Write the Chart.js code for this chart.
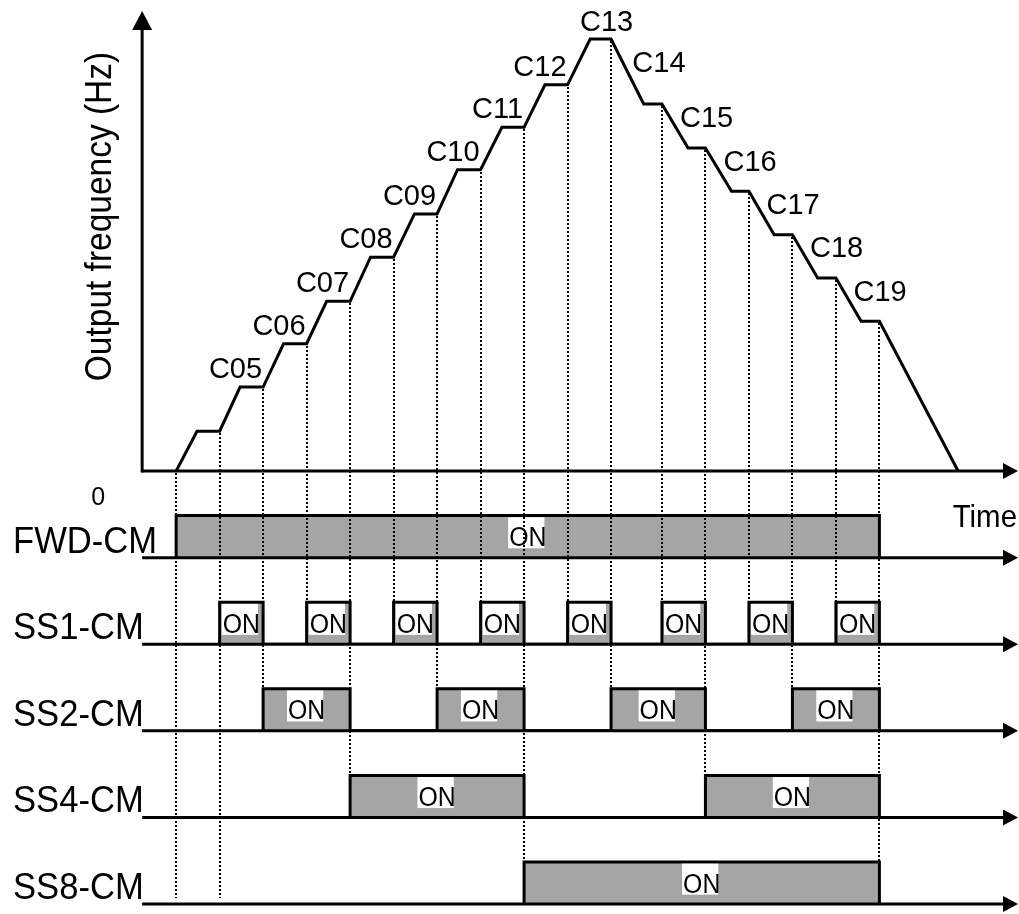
<!DOCTYPE html>
<html>
<head>
<meta charset="utf-8">
<script src="https://cdn.jsdelivr.net/npm/chart.js@4/dist/chart.umd.min.js"></script>
<style>
  html, body { margin: 0; padding: 0; background: #fff; }
  #timing { display: block; }
</style>
</head>
<body>
<canvas id="timing" width="1019" height="914"></canvas>
<script>
"use strict";

// speed levels: plateau start / end (one time unit = one switching step) and output frequency (Hz)
const levelNames = ['', 'C05', 'C06', 'C07', 'C08', 'C09', 'C10', 'C11', 'C12', 'C13', 'C14', 'C15', 'C16', 'C17', 'C18', 'C19'];
const levelStart = [0.48, 1.47, 2.47, 3.46, 4.47, 5.48, 6.47, 7.49, 8.48, 9.52, 10.75, 11.77, 12.77, 13.75, 14.75, 15.75];
const levelEnd   = [1, 2, 3, 4, 5, 6, 7, 8, 9, 10, 11.17, 12.17, 13.17, 14.17, 15.17, 16.17];
const levelHz    = [4.6, 9.7, 14.7, 19.6, 24.7, 29.7, 34.8, 39.7, 44.6, 49.9, 42.4, 37.3, 32.3, 27.3, 22.3, 17.3];
const runStart = 0;
const stopTime = 17.98;

// terminal inputs, [on, off] intervals
const signalNames = ['FWD-CM', 'SS1-CM', 'SS2-CM', 'SS4-CM', 'SS8-CM'];
const fwdOn = [[0, 16.17]];
const ss1On = [[1, 2], [3, 4], [5, 6], [7, 8], [9, 10], [11.17, 12.17], [13.17, 14.17], [15.17, 16.17]];
const ss2On = [[2, 4], [6, 8], [10, 12.17], [14.17, 16.17]];
const ss4On = [[4, 8], [12.17, 16.17]];
const ss8On = [[8, 16.17]];
const signalOn = [fwdOn, ss1On, ss2On, ss4On, ss8On];

const FONT = '"Liberation Sans", Arial, sans-serif';
const GREY = '#a5a5a5';

var freqData = [{x: runStart, y: 0}];
levelHz.forEach(function (hz, i) {
    freqData.push({x: levelStart[i], y: hz}, {x: levelEnd[i], y: hz});
});
freqData.push({x: stopTime, y: 0});

function wave(intervals) {
    var pts = [];
    intervals.forEach(function (iv) {
        pts.push({x: iv[0], y: 0}, {x: iv[0], y: 1}, {x: iv[1], y: 1}, {x: iv[1], y: 0});
    });
    return pts;
}

var rowAxes = signalNames.map(function (n, i) { return 'row' + i; });

var scales = {
    x: {type: 'linear', min: -4.05, max: 19.38, display: false},
    yFreq: {type: 'linear', position: 'right', stack: 'rows', stackWeight: 5.44, min: 0, max: 54.4, display: false}
};
rowAxes.forEach(function (id) {
    scales[id] = {type: 'linear', position: 'right', stack: 'rows', stackWeight: 1, min: 0, max: 2.06, display: false};
});

var datasets = [{
    label: 'Output frequency',
    data: freqData,
    yAxisID: 'yFreq',
    borderColor: '#000',
    borderWidth: 3,
    pointRadius: 0,
    fill: false
}];
signalOn.forEach(function (on, i) {
    datasets.push({
        label: signalNames[i],
        data: wave(on),
        yAxisID: rowAxes[i],
        borderColor: '#000',
        backgroundColor: GREY,
        borderWidth: 3,
        pointRadius: 0,
        fill: 'origin'
    });
});

function text(ctx, str, x, y, size, align, squeeze) {
    ctx.save();
    ctx.font = size + 'px ' + FONT;
    ctx.textAlign = align;
    ctx.textBaseline = 'alphabetic';
    ctx.fillStyle = '#000';
    ctx.translate(x, y);
    ctx.scale(squeeze, 1);
    ctx.fillText(str, 0, 0);
    ctx.restore();
}

function arrowRight(ctx, tipX, y) {
    ctx.beginPath();
    ctx.moveTo(tipX, y);
    ctx.lineTo(tipX - 15, y - 8);
    ctx.lineTo(tipX - 15, y + 8);
    ctx.closePath();
    ctx.fill();
}

function line(ctx, x1, y1, x2, y2) {
    ctx.beginPath();
    ctx.moveTo(x1, y1);
    ctx.lineTo(x2, y2);
    ctx.stroke();
}

var timingDecor = {
    id: 'timingDecor',
    afterDatasetsDraw: function (chart) {
        var ctx = chart.ctx;
        var area = chart.chartArea;
        var xs = chart.scales.x;
        var fs = chart.scales.yFreq;
        var px = function (t) { return xs.getPixelForValue(t); };
        var axisX = px(runStart) - 34;
        var tipX = area.right - 1;
        var f0 = fs.getPixelForValue(0);

        ctx.save();
        ctx.strokeStyle = '#000';
        ctx.fillStyle = '#000';
        ctx.lineWidth = 3;

        // frequency axes
        line(ctx, axisX, f0 + 1.5, axisX, area.top + 28);
        ctx.beginPath();
        ctx.moveTo(axisX, area.top + 11);
        ctx.lineTo(axisX - 10, area.top + 30);
        ctx.lineTo(axisX + 10, area.top + 30);
        ctx.closePath();
        ctx.fill();
        line(ctx, axisX, f0, tipX - 13, f0);
        arrowRight(ctx, tipX, f0);

        // signal baselines
        rowAxes.forEach(function (id) {
            var y = chart.scales[id].getPixelForValue(0);
            line(ctx, axisX, y, tipX - 13, y);
            arrowRight(ctx, tipX, y);
        });

        // ON labels
        signalOn.forEach(function (on, r) {
            var rs = chart.scales[rowAxes[r]];
            var by = rs.getPixelForValue(0.27);
            on.forEach(function (iv) {
                var cx = (px(iv[0]) + px(iv[1])) / 2;
                ctx.font = '27px ' + FONT;
                var w = ctx.measureText('ON').width * 0.92;
                ctx.fillStyle = '#fff';
                ctx.fillRect(cx - w / 2 - 1, by - 29, w - 1, 31);
                text(ctx, 'ON', cx, by, 27, 'center', 0.92);
            });
        });

        // dotted guides at each switching instant
        var guides = [{t: runStart, hz: 0}].concat(levelEnd.map(function (t, i) { return {t: t, hz: levelHz[i]}; }));
        var lastRow = rowAxes.length - 1;
        ctx.strokeStyle = '#000';
        ctx.lineWidth = 2;
        ctx.setLineDash([2, 2]);
        guides.forEach(function (g, k) {
            var endY;
            if (k < 2) {
                endY = chart.scales[rowAxes[lastRow]].getPixelForValue(0.15);
            } else {
                var low = 0;
                signalOn.forEach(function (on, r) {
                    on.forEach(function (iv) { if (iv[0] === g.t || iv[1] === g.t) { low = Math.max(low, r); } });
                });
                endY = chart.scales[rowAxes[low]].getPixelForValue(1);
            }
            var gx = Math.round(px(g.t));
            line(ctx, gx, Math.round(fs.getPixelForValue(g.hz) + 2), gx, Math.round(endY));
        });
        ctx.setLineDash([]);

        // level names along the frequency curve
        var peak = levelHz.indexOf(Math.max.apply(null, levelHz));
        levelNames.forEach(function (name, i) {
            if (!name) return;
            var y = fs.getPixelForValue(levelHz[i]);
            if (i === peak) {
                text(ctx, name, (px(levelStart[i]) + px(levelEnd[i])) / 2 + 6, y - 8, 29, 'center', 1);
            } else if (levelHz[i] > levelHz[i - 1]) {
                text(ctx, name, px(levelEnd[i]) - 1, y - 9, 29, 'right', 1);
            } else {
                var mx = (px(levelEnd[i - 1]) + px(levelStart[i])) / 2;
                var my = (fs.getPixelForValue(levelHz[i - 1]) + y) / 2;
                text(ctx, name, mx + 5, my + 1, 29, 'left', 1);
            }
        });

        // row names and axis texts
        signalNames.forEach(function (name, r) {
            var y = chart.scales[rowAxes[r]].getPixelForValue(0);
            text(ctx, name, area.left + 13, y - 5, 37, 'left', 0.935);
        });
        text(ctx, '0', axisX - 44, f0 + 34, 25, 'center', 1);
        text(ctx, 'Time', area.right - 2, f0 + 56, 32, 'right', 0.92);

        ctx.save();
        ctx.translate(axisX - 43, (area.top + f0) / 2 - 19);
        ctx.rotate(-Math.PI / 2);
        text(ctx, 'Output frequency (Hz)', 0, 12, 36, 'center', 0.93);
        ctx.restore();

        ctx.restore();
    }
};

new Chart(document.getElementById('timing').getContext('2d'), {
    type: 'line',
    data: {datasets: datasets},
    options: {
        responsive: false,
        animation: false,
        events: [],
        layout: {padding: {top: 0, left: 0, right: 0, bottom: 10}},
        elements: {line: {tension: 0}},
        scales: scales,
        plugins: {
            legend: {display: false},
            tooltip: {enabled: false}
        }
    },
    plugins: [timingDecor]
});
</script>
</body>
</html>
